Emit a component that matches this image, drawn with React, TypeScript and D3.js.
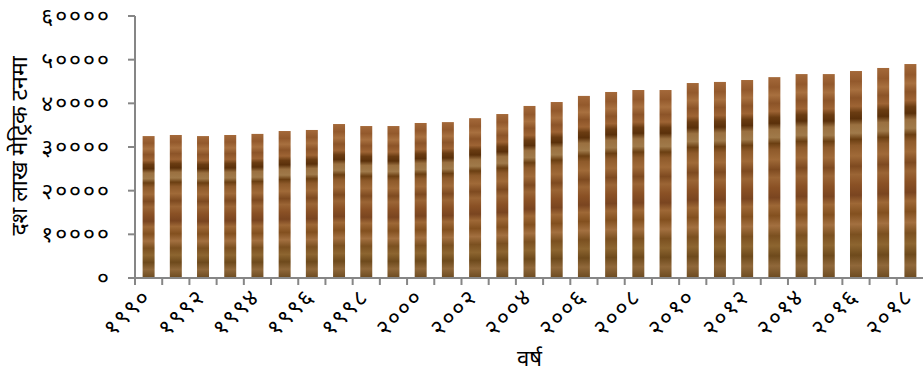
import React from "react";
import * as d3 from "d3";

const years: number[] = [1990,1991,1992,1993,1994,1995,1996,1997,1998,1999,2000,2001,2002,2003,2004,2005,2006,2007,2008,2009,2010,2011,2012,2013,2014,2015,2016,2017,2018];
const values: number[] = [32500,32750,32500,32750,33000,33660,33900,35260,34800,34800,35500,35700,36600,37550,39400,40300,41700,42600,43050,43050,44650,44900,45340,46000,46700,46700,47400,48100,49000];
const yTicks: number[] = [0,10000,20000,30000,40000,50000,60000];
const yTitle = "दश लाख मेट्रिक टनमा";
const xTitle = "वर्ष";

const DEV = ["०","१","२","३","४","५","६","७","८","९"];
const toDev = (n: number) => String(n).split("").map(c => (c >= "0" && c <= "9" ? DEV[+c] : c)).join("");

const stripeStops: [number, string][] = [
  [0, "#a4693a"], [0.05, "#93592c"], [0.09, "#a8703f"], [0.13, "#8c5428"], [0.17, "#9e6434"],
  [0.2, "#6a3c12"], [0.23, "#5a300a"], [0.26, "#9a7040"], [0.3, "#a07a4a"], [0.33, "#6b3f12"],
  [0.36, "#8e5a2a"], [0.41, "#a06a38"], [0.46, "#7e4a20"], [0.5, "#9b6535"], [0.55, "#8a5125"],
  [0.6, "#7a4520"], [0.64, "#9e6836"], [0.69, "#83501f"], [0.74, "#a37040"], [0.79, "#7b5020"],
  [0.84, "#8d6530"], [0.89, "#6e4a1c"], [0.94, "#90683a"], [1, "#6b4a20"],
];

export default function App() {
  const W = 923, H = 374;
  const x0 = 135, x1 = 924, yTop = 16, yBot = 278;
  const x = d3.scaleBand<number>().domain(years).range([x0, x1]).padding(0.56).paddingOuter(0.28);
  const xb = d3.scaleBand<number>().domain(years).range([x0, x1]).padding(0);
  const y = d3.scaleLinear().domain([0, 60000]).range([yBot, yTop]);
  const axisColor = "#868686";
  const font = "'Noto Sans Devanagari', 'Noto Sans', sans-serif";

  return (
    <svg width={W} height={H} style={{ position: "absolute", left: 0, top: 0, fontFamily: font }}>
      <defs>
        <linearGradient id="wood" x1="0" y1="0" x2="0" y2="1">
          {stripeStops.map(([o, c], i) => <stop key={i} offset={o} stopColor={c} />)}
        </linearGradient>
      </defs>
      {years.map((yr, i) => (
        <rect key={yr} x={x(yr)} width={x.bandwidth()} y={y(values[i])} height={yBot - y(values[i])} fill="url(#wood)" />
      ))}
      {/* y axis */}
      <line x1={x0} x2={x0} y1={yTop} y2={yBot} stroke={axisColor} strokeWidth={2} />
      {yTicks.map(t => (
        <g key={t}>
          <line x1={x0 - 7} x2={x0} y1={y(t)} y2={y(t)} stroke={axisColor} strokeWidth={2} />
          <text x={111} y={y(t)} dy="0.35em" textAnchor="end" fontSize={23} letterSpacing={2} fill="#000">{toDev(t)}</text>
        </g>
      ))}
      {/* x axis */}
      <line x1={x0} x2={x1} y1={yBot} y2={yBot} stroke={axisColor} strokeWidth={2} />
      {years.map(yr => (
        <line key={yr} x1={xb(yr)} x2={xb(yr)} y1={yBot} y2={yBot + 7} stroke={axisColor} strokeWidth={2} />
      ))}
      {years.filter(yr => yr % 2 === 0).map(yr => {
        const cx = (xb(yr) as number) + xb.bandwidth() / 2 + 4;
        const cy = 298;
        return (
          <text key={yr} x={cx} y={cy} textAnchor="end" fontSize={23} letterSpacing={2} fill="#000" transform={`rotate(-45 ${cx} ${cy})`}>{toDev(yr)}</text>
        );
      })}
      <text x={(x0 + x1) / 2} y={366} textAnchor="middle" fontSize={22} fill="#000">{xTitle}</text>
      <text x={0} y={0} transform={`translate(27 ${146}) rotate(-90)`} textAnchor="middle" fontSize={23} fill="#000">{yTitle}</text>
    </svg>
  );
}
